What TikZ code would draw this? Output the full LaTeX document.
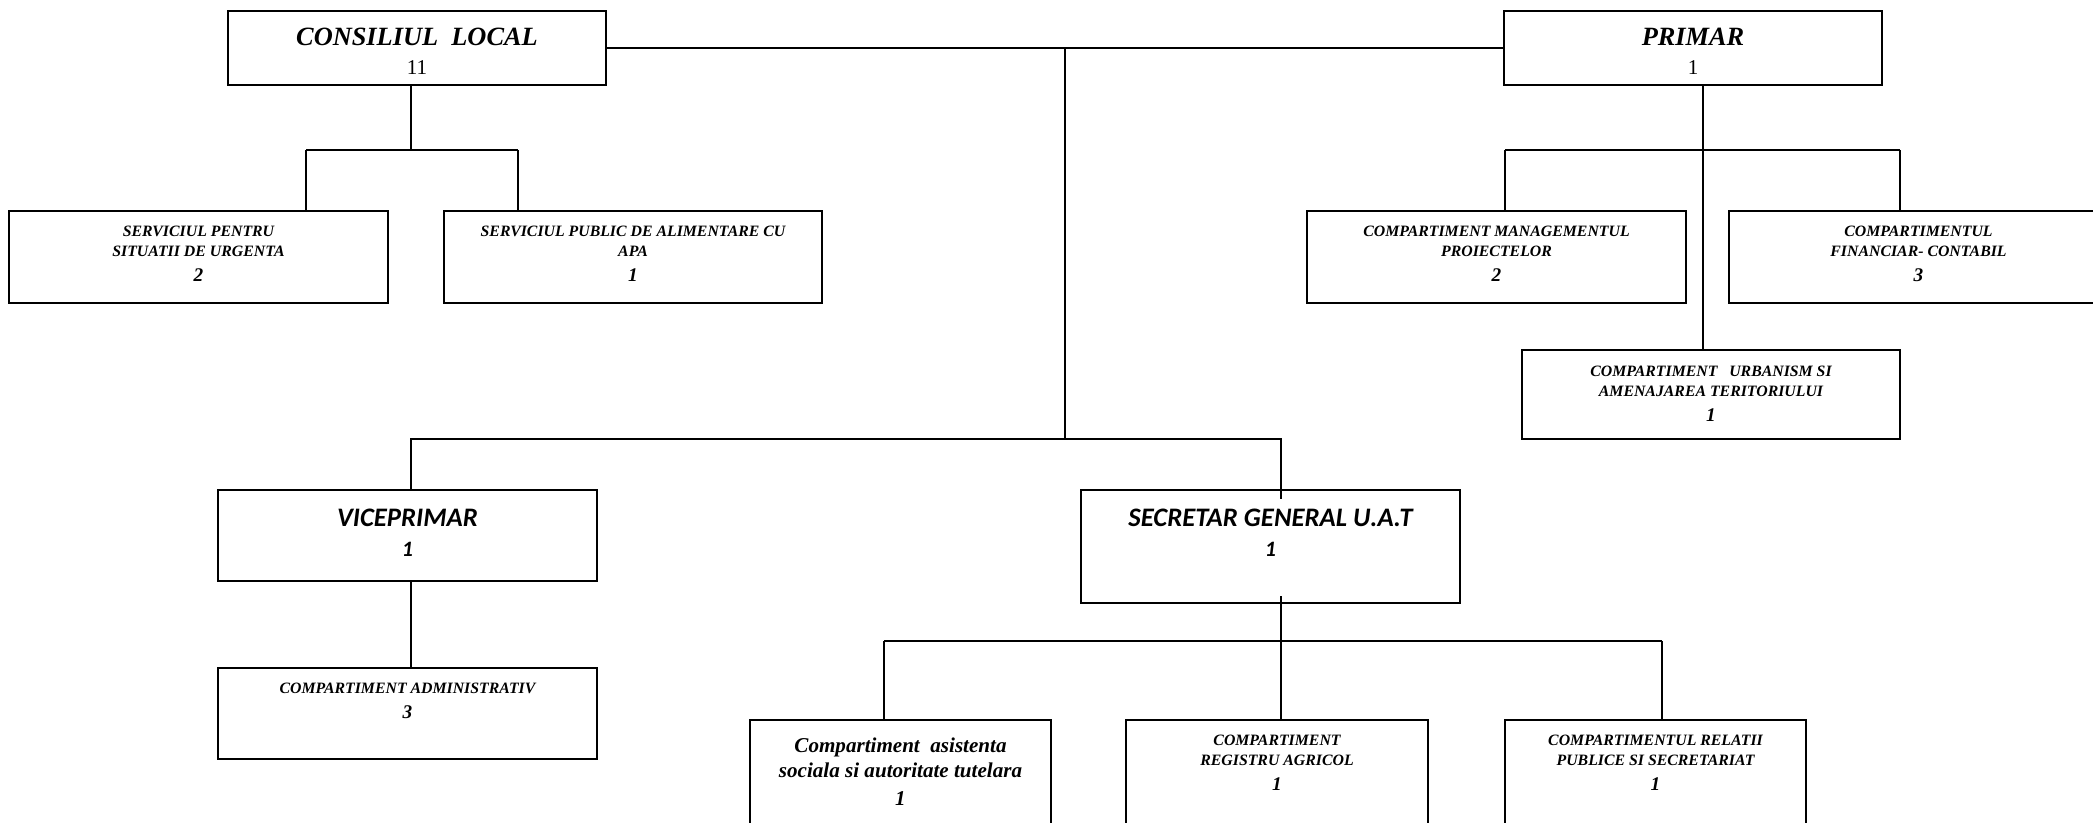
\documentclass[tikz,border=0pt]{standalone}
\usepackage{fontspec}
\setmainfont{Liberation Serif}
\newfontfamily\carlito{Carlito}
\usetikzlibrary{positioning}
\newdimen\px \px=0.2mm
\newcommand{\unitbody}[4]{\parbox[c][#2\px][t]{#1\px}{\centering\vspace*{#3\px}#4}}
\newcommand{\deptfont}{\fontsize{9}{11.3}\selectfont\bfseries\itshape}
\newcommand{\countfont}{\fontsize{11}{14.2}\selectfont\bfseries\itshape}
\newcommand{\titlefont}{\fontsize{15}{18}\selectfont\bfseries\itshape}
\newcommand{\calfont}{\carlito\fontsize{15.2}{17.6}\selectfont\bfseries\itshape}
\tikzset{unit/.style={draw,line width=0.9pt,inner sep=0pt,outer sep=0pt},
  link/.style={line width=0.9pt},}

\begin{document}
\begin{tikzpicture}[x=0.2mm, y=-0.2mm]
	\useasboundingbox (0,0) rectangle (2093,822);
	\clip (0,0) rectangle (2093,822);

	% top level
	\node[unit] (cl) at (417,48) {\unitbody{378}{74}{17}{{\titlefont CONSILIUL\ \ LOCAL\par}{\fontsize{12}{16.5}\selectfont 11\par}}};
	\node[unit] (primar) at (1693,48) {\unitbody{378}{74}{17}{{\titlefont PRIMAR\par}{\fontsize{12}{16.5}\selectfont 1\par}}};

	% consiliul local
	\node[unit] (spsu) at (198.5,257) {\unitbody{379}{92}{15.5}{{\deptfont SERVICIUL PENTRU\\SITUATII DE URGENTA\par}{\countfont 2\par}}};
	\node[unit] (spaa) at (633,257) {\unitbody{378}{92}{15.5}{{\deptfont SERVICIUL PUBLIC DE ALIMENTARE CU\\APA\par}{\countfont 1\par}}};

	% primar
	\node[unit] (cmp) at (1496.5,257) {\unitbody{379}{92}{15.5}{{\deptfont COMPARTIMENT MANAGEMENTUL\\PROIECTELOR\par}{\countfont 2\par}}};
	\node[unit] (cfc) at (1918.5,257) {\unitbody{379}{92}{15.5}{{\deptfont COMPARTIMENTUL\\FINANCIAR- CONTABIL\par}{\countfont 3\par}}};
	\node[unit] (cuat) at (1711,394.5) {\unitbody{378}{89}{16.5}{{\deptfont COMPARTIMENT\ \ \ URBANISM SI\\AMENAJAREA TERITORIULUI\par}{\countfont 1\par}}};

	% viceprimar / secretar
	\node[unit] (vice) at (407.5,535.5) {\unitbody{379}{91}{18.5}{{\calfont VICEPRIMAR\par}{\carlito\fontsize{12.5}{17.6}\selectfont\bfseries\itshape 1\par}}};
	\node[unit] (ca) at (407.5,713.5) {\unitbody{379}{91}{15.5}{{\deptfont COMPARTIMENT ADMINISTRATIV\par}{\countfont 3\par}}};
	\node[unit] (sec) at (1270.5,546.5) {\unitbody{379}{113}{18.5}{{\calfont SECRETAR GENERAL U.A.T\par}{\carlito\fontsize{12.5}{17.6}\selectfont\bfseries\itshape 1\par}}};

	% secretar general
	\node[unit] (cas) at (900.5,780) {\unitbody{301}{120}{17.5}{{\fontsize{12}{14.2}\selectfont\bfseries\itshape Compartiment\ \ asistenta\\sociala si autoritate tutelara\par}{\fontsize{12}{15.9}\selectfont\bfseries\itshape 1\par}}};
	\node[unit] (cra) at (1277,780) {\unitbody{302}{120}{15.5}{{\deptfont COMPARTIMENT\\REGISTRU AGRICOL\par}{\countfont 1\par}}};
	\node[unit] (crps) at (1655.5,780) {\unitbody{301}{120}{15.5}{{\deptfont COMPARTIMENTUL RELATII\\PUBLICE SI SECRETARIAT\par}{\countfont 1\par}}};

	\coordinate (top) at (1065,48);
	\coordinate (mid) at (1065,439);
	\coordinate (viceM) at (411,439);
	\coordinate (clL) at (306,150);
	\coordinate (clM) at (411,150);
	\coordinate (clR) at (518,150);
	\coordinate (prL) at (1505,150);
	\coordinate (prM) at (1703,150);
	\coordinate (prR) at (1900,150);
	\coordinate (secin) at (1281,499);
	\coordinate (secout) at (1281,596);
	\coordinate (secL) at (884,641);
	\coordinate (secM) at (1281,641);
	\coordinate (secR) at (1662,641);

	\path[draw,link]
	(cl) -- (primar)
	(top) -- (mid)
	(cl.south -| clM) -- (clM)
	(clL) -- (clR)
	(clL) -- (clL |- spsu.north)
	(clR) -- (clR |- spaa.north)
	(primar.south -| prM) -- (prM |- cuat.north)
	(prL) -- (prR)
	(prL) -- (prL |- cmp.north)
	(prR) -- (prR |- cfc.north)
	(viceM |- vice.north) -- (viceM) -- (mid) -| (secin)
	(viceM |- vice.south) -- (viceM |- ca.north)
	(secout) -- (secM |- cra.north)
	(secL) -- (secR)
	(secL) -- (secL |- cas.north)
	(secR) -- (secR |- crps.north);
\end{tikzpicture}
\end{document}
